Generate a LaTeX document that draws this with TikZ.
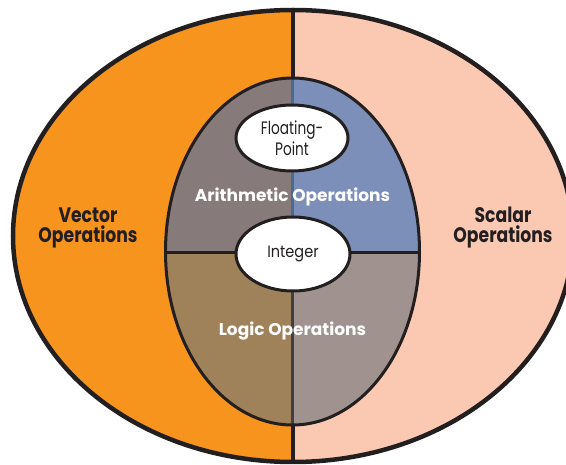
\documentclass[tikz,border=0pt]{standalone}
\usepackage{fontspec}
\usepackage{graphicx}
\setmainfont{Poppins}
\usetikzlibrary{shapes.geometric}
\definecolor{orangeL}{RGB}{247,148,30}
\definecolor{peachR}{RGB}{251,201,178}
\definecolor{qTL}{RGB}{135,122,122}
\definecolor{qTR}{RGB}{123,143,184}
\definecolor{qBL}{RGB}{160,130,90}
\definecolor{qBR}{RGB}{160,146,142}
\definecolor{inkD}{RGB}{35,31,32}
\definecolor{blueDiv}{RGB}{74,107,142}
\definecolor{grayDiv}{RGB}{64,64,64}
\newcommand{\hsq}[2]{\scalebox{#1}[1]{#2}}
\tikzset{
  outline/.style={draw=inkD, line width=4.5pt},
  inline/.style={draw=inkD, line width=3pt},
  smallell/.style={ellipse, draw=inkD, line width=3pt, fill=white, inner sep=0pt, text=inkD, align=center},
  outerlbl/.style={text=inkD, align=center, font=\bfseries\fontsize{21}{20}\selectfont},
  innerlbl/.style={text=white, align=center, font=\bfseries\fontsize{17}{20}\selectfont},
}
\begin{document}
\begin{tikzpicture}[x=1pt,y=-1pt]
\useasboundingbox (0,0) rectangle (566,465);
% outer halves
\begin{scope}
  \clip (0,0) rectangle (293,465);
  \fill[orangeL] (293,236) ellipse [x radius=280, y radius=226];
\end{scope}
\begin{scope}
  \clip (293,0) rectangle (600,465);
  \fill[peachR] (293,236) ellipse [x radius=280, y radius=226];
\end{scope}
\draw[outline] (293,236) ellipse [x radius=280, y radius=226];
\draw[draw=inkD, line width=4pt] (293,8) -- (293,464);
% inner quadrants
\begin{scope}
  \clip (292.5,251.5) ellipse [x radius=127, y radius=173.5];
  \fill[qTL] (100,0) rectangle (292.5,253);
  \fill[qTR] (292.5,0) rectangle (500,253);
  \fill[qBL] (100,253) rectangle (292.5,465);
  \fill[qBR] (292.5,253) rectangle (500,465);
  \draw[blueDiv, line width=3pt] (292.5,0) -- (292.5,253);
  \draw[grayDiv, line width=3.5pt] (292.5,253) -- (292.5,465);
  \draw[inkD, line width=3pt] (100,253) -- (500,253);
\end{scope}
\draw[inline] (292.5,251.5) ellipse [x radius=127, y radius=173.5];
% small ellipses
\node[smallell, minimum width=112pt, minimum height=66pt, font=\fontsize{18}{21}\selectfont] (fp) at (292,138) {\hsq{0.76}{Floating-}\\\hsq{0.76}{Point}};
\node[smallell, minimum width=114pt, minimum height=74pt, font=\fontsize{16.5}{20}\selectfont] (int) at (293,254) {\hsq{0.88}{Integer}};
% labels
\node[outerlbl] (vec) at (88,228) {\hsq{0.82}{Vector}\\\hsq{0.82}{Operations}};
\node[outerlbl] (sca) at (503,228) {\hsq{0.82}{Scalar}\\\hsq{0.82}{Operations}};
\node[innerlbl] (ari) at (292.5,197) {Arithmetic Operations};
\node[innerlbl] (log) at (292.5,331) {Logic Operations};
\end{tikzpicture}
\end{document}
